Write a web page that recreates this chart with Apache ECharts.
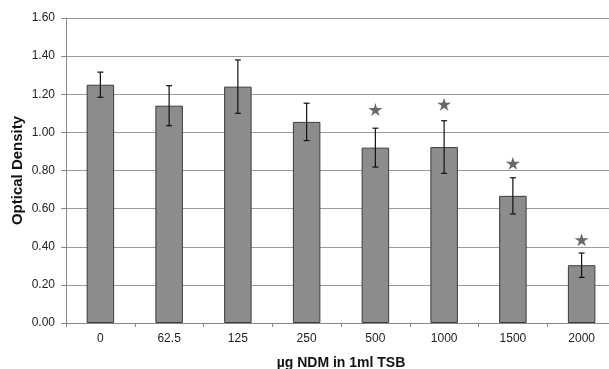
<!DOCTYPE html>
<html>
<head>
<meta charset="utf-8">
<script src="https://cdn.jsdelivr.net/npm/echarts@6/dist/echarts.min.js"></script>
<style>
  html, body { margin: 0; padding: 0; background: #fff; }
  #chart { width: 609px; height: 369px; }
</style>
</head>
<body>
<div id="chart"></div>
<script>
const categories = ['0', '62.5', '125', '250', '500', '1000', '1500', '2000'];
const density = [1.25, 1.14, 1.24, 1.055, 0.92, 0.923, 0.667, 0.303];
const errorSize = [0.066, 0.105, 0.14, 0.098, 0.102, 0.138, 0.095, 0.064];
const starLevel = [null, null, null, null, 1.12, 1.148, 0.838, 0.437];
const yTicks = [0, 0.2, 0.4, 0.6, 0.8, 1.0, 1.2, 1.4, 1.6];

const starPath = 'path://M50,0 L61,35 L98,35 L68,57 L79,91 L50,70 L21,91 L32,57 L2,35 L39,35 Z';

const errorData = density.map((v, i) => [i, v - errorSize[i], v + errorSize[i]]);

const chart = echarts.init(document.getElementById('chart'));
chart.setOption({
    animation: false,
    grid: { left: 66, top: 18, width: 550, height: 305, outerBoundsMode: 'none' },
    xAxis: {
        type: 'category',
        data: categories,
        name: 'µg NDM in 1ml TSB',
        nameLocation: 'middle',
        nameGap: 33,
        nameMoveOverlap: false,
        nameTextStyle: { fontFamily: 'Liberation Sans', fontWeight: 'bold', fontSize: 14, color: '#111' },
        axisLine: { lineStyle: { color: '#888', width: 1 } },
        axisTick: { show: true, alignWithLabel: false, length: 4, lineStyle: { color: '#888' } },
        axisLabel: { fontFamily: 'Liberation Sans', fontSize: 12, color: '#222', margin: 10 }
    },
    yAxis: {
        type: 'value',
        min: 0,
        max: yTicks[yTicks.length - 1],
        interval: 0.2,
        name: 'Optical Density',
        nameLocation: 'middle',
        nameGap: 41,
        nameMoveOverlap: false,
        nameTextStyle: { fontFamily: 'Liberation Sans', fontWeight: 'bold', fontSize: 15, color: '#111' },
        axisLine: { show: true, lineStyle: { color: '#888', width: 1 } },
        axisTick: { show: true, length: 5, lineStyle: { color: '#888' } },
        axisLabel: {
            fontFamily: 'Liberation Sans', fontSize: 12, color: '#222', margin: 11,
            formatter: v => v.toFixed(2)
        },
        splitLine: { lineStyle: { color: '#9a9a9a', width: 1 } }
    },
    series: [
        {
            type: 'bar',
            data: density,
            barWidth: '40%',
            itemStyle: { color: '#8c8c8c', borderColor: '#3c3c3c', borderWidth: 1 }
        },
        {
            type: 'custom',
            data: errorData,
            z: 5,
            renderItem: function (params, api) {
                const x = api.value(0);
                const lo = api.coord([x, api.value(1)]);
                const hi = api.coord([x, api.value(2)]);
                const cap = 3;
                const style = { stroke: '#111', lineWidth: 1.2 };
                return {
                    type: 'group',
                    children: [
                        { type: 'line', shape: { x1: hi[0], y1: hi[1], x2: lo[0], y2: lo[1] }, style: style },
                        { type: 'line', shape: { x1: hi[0] - cap, y1: hi[1], x2: hi[0] + cap, y2: hi[1] }, style: style },
                        { type: 'line', shape: { x1: lo[0] - cap, y1: lo[1], x2: lo[0] + cap, y2: lo[1] }, style: style }
                    ]
                };
            }
        },
        {
            type: 'scatter',
            data: starLevel,
            symbol: starPath,
            symbolSize: [14, 13],
            itemStyle: { color: '#444' },
            z: 6
        }
    ]
});
</script>
</body>
</html>
